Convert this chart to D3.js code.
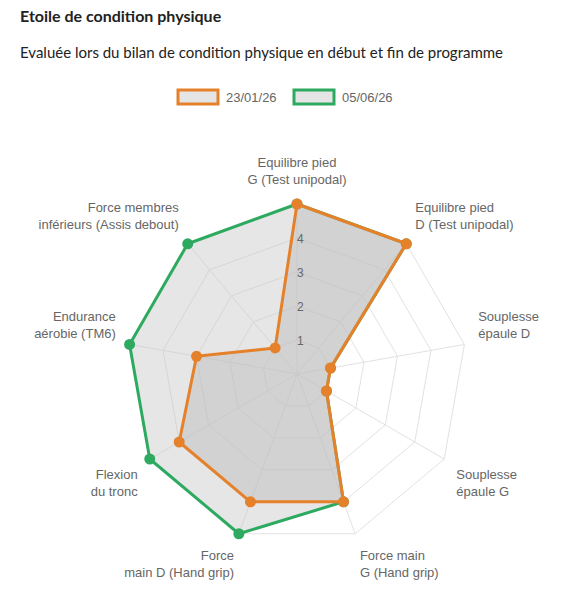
<!DOCTYPE html>
<html><head><meta charset="utf-8">
<script src="https://cdn.jsdelivr.net/npm/d3@7"></script>
<style>body{margin:0;background:#fff;font-family:Lato,sans-serif}</style>
</head><body>
<svg id="c" width="562" height="600"></svg>
<script>
const categories = [
  ["Equilibre pied","G (Test unipodal)"],
  ["Equilibre pied","D (Test unipodal)"],
  ["Souplesse","épaule D"],
  ["Souplesse","épaule G"],
  ["Force main","G (Hand grip)"],
  ["Force","main D (Hand grip)"],
  ["Flexion","du tronc"],
  ["Endurance","aérobie (TM6)"],
  ["Force membres","inférieurs (Assis debout)"]
];
const seriesNames = ["23/01/26","05/06/26"];
const valuesA = [5,5,1,1,4,4,4,3,1];
const valuesB = [5,5,1,1,4,5,5,5,5];
const tickLabels = [1,2,3,4];
const colors = ["#e5812a","#2eaa60"];

const svg = d3.select("#c");
svg.append("text").attr("x",20).attr("y",22).attr("font-size",16).attr("font-weight","bold").attr("fill","#222").text("Etoile de condition physique");
svg.append("text").attr("x",20).attr("y",58).attr("font-size",15).attr("fill","#222").text("Evaluée lors du bilan de condition physique en début et fin de programme");

// legend
const leg = [{x:178,name:seriesNames[0],c:colors[0]},{x:294,name:seriesNames[1],c:colors[1]}];
leg.forEach(l=>{
  svg.append("rect").attr("x",l.x).attr("y",90).attr("width",40).attr("height",14).attr("fill","#e5e5e5").attr("stroke",l.c).attr("stroke-width",3);
  svg.append("text").attr("x",l.x+48).attr("y",102).attr("font-size",13).attr("font-family","Liberation Sans, Arial").attr("fill","#666").text(l.name);
});

const cx=297, cy=374, R=170, N=categories.length;
const r = d3.scaleLinear().domain([0,5]).range([0,R]);
const ang = i => i*2*Math.PI/N;
const pt = (i,v)=>[cx+r(v)*Math.sin(ang(i)), cy-r(v)*Math.cos(ang(i))];
const g = svg.append("g");
// grid
[1,2,3,4,5].forEach(l=>{
  g.append("polygon").attr("points",d3.range(N).map(i=>pt(i,l).join(",")).join(" "))
   .attr("fill","none").attr("stroke","#e2e2e2").attr("stroke-width",1);
});
d3.range(N).forEach(i=>{
  const p=pt(i,5);
  g.append("line").attr("x1",cx).attr("y1",cy).attr("x2",p[0]).attr("y2",p[1]).attr("stroke","#e2e2e2");
});
const line = d3.line().curve(d3.curveLinearClosed);
[[valuesB,colors[1],"rgba(200,200,200,0.45)"],[valuesA,colors[0],"rgba(190,190,190,0.5)"]].forEach(([vals,c,f])=>{
  const pts = vals.map((v,i)=>pt(i,v));
  g.append("path").attr("d",line(pts)).attr("fill",f).attr("stroke",c).attr("stroke-width",3).attr("stroke-linejoin","round");
  pts.forEach(p=>g.append("circle").attr("cx",p[0]).attr("cy",p[1]).attr("r",5.5).attr("fill",c));
});
// ticks
tickLabels.forEach(t=>{
  g.append("text").attr("x",cx).attr("y",cy-r(t)+5).attr("font-size",12).attr("font-family","Liberation Sans, Arial").attr("fill","#666").text(t);
});
// labels
d3.range(N).forEach(i=>{
  const a = ang(i)*180/Math.PI;
  const p=[cx+(R+14)*Math.sin(ang(i)), cy-(R+14)*Math.cos(ang(i))];
  const anchor = (Math.abs(a)<1||Math.abs(a-180)<1)?"middle":(a<180?"start":"end");
  const lines=categories[i], lh=17, h=lines.length*lh;
  let top;
  if (a>90 && a<270) top=p[1]; else top=p[1]-h;
  if (i===0) top=p[1]-h-2;
  const t=svg.append("text").attr("font-size",13).attr("font-family","Liberation Sans, Arial").attr("fill","#666").attr("text-anchor",anchor);
  lines.forEach((s,k)=>t.append("tspan").attr("x",p[0]).attr("y",top+13+k*lh).text(s));
});
</script>
</body></html>
